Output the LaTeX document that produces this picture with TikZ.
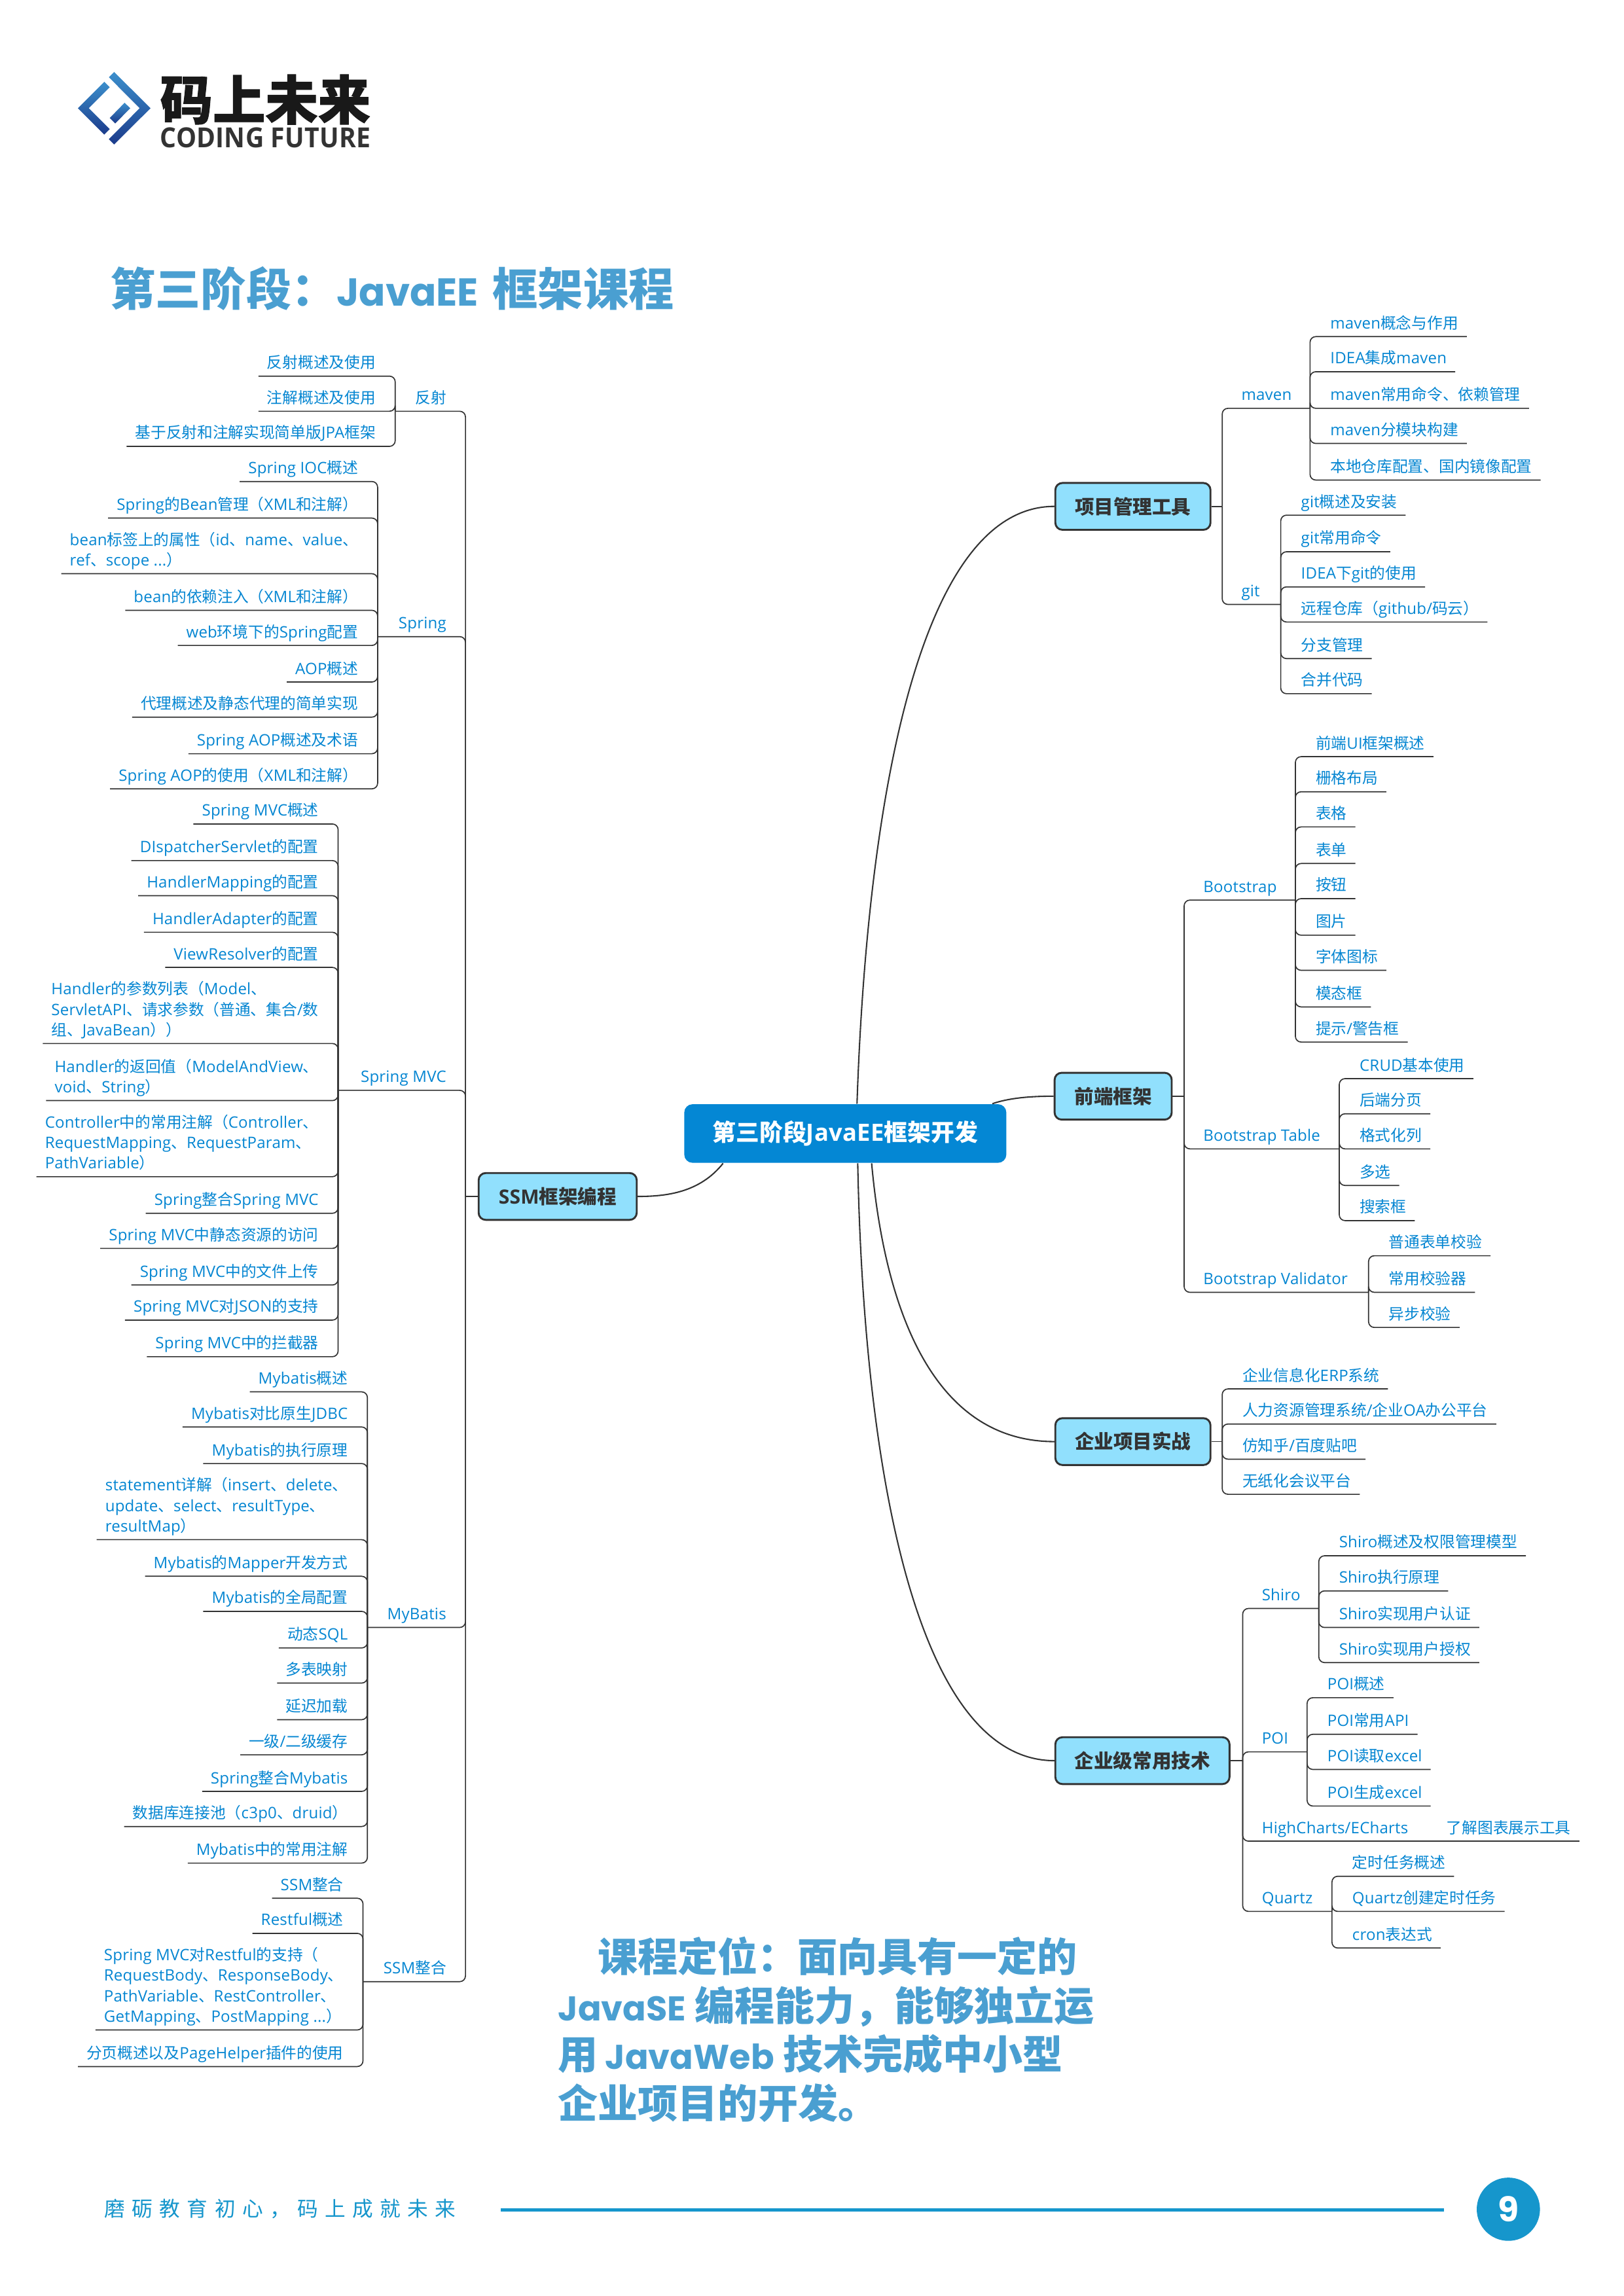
\documentclass[tikz,border=0pt]{standalone}
\usepackage{fontspec}
\setmainfont{Open Sans}[Scale=1.015,LetterSpace=0.8]
\newfontfamily\latfam{Open Sans}[Scale=1.015,LetterSpace=0.8]
\newfontfamily\cjkfam{Noto Sans CJK SC}
\newfontfamily\ttllat{Poppins}[Scale=0.86]
\newfontfamily\numfam{Poppins}
\newfontfamily\footfam{Noto Sans CJK SC}[LetterSpace=33]
\newfontfamily\logofam{Noto Sans CJK SC}[BoldFeatures={FakeBold=1.2}]
\def\curcjk{\cjkfam}
\def\curlat{\latfam}
\XeTeXinterchartokenstate=1
\count255="3000
\loop \XeTeXcharclass\count255=7 \ifnum\count255<"9FFF \advance\count255 by 1 \repeat
\count255="FF00
\loop \XeTeXcharclass\count255=7 \ifnum\count255<"FFEF \advance\count255 by 1 \repeat
\XeTeXinterchartoks 0 7 = {\curcjk}
\XeTeXinterchartoks 7 0 = {\curlat}
\XeTeXinterchartoks 4095 7 = {\curcjk}
\XeTeXinterchartoks 7 4095 = {\curlat}
\newdimen\uu \uu=0.53665pt
\definecolor{lbl}{HTML}{0586D2}
\definecolor{ink}{HTML}{333333}
\definecolor{boxfill}{HTML}{91E0FD}
\definecolor{central}{HTML}{0487D4}
\definecolor{ttl}{HTML}{4A9FD1}
\definecolor{foot}{HTML}{1696CC}
\definecolor{logolight}{HTML}{3C8FCC}
\definecolor{logodark}{HTML}{1B3B8B}
\tikzset{
 leaf/.style={text=lbl,inner xsep=5.5\uu,inner ysep=2.5\uu,text height=9\uu,text depth=2.5\uu,align=left,
   font=\fontsize{5.69pt}{7.51pt}\selectfont},
 conn/.style={draw=ink,line width=0.4pt,rounded corners=2.1pt},
 curve/.style={draw=ink,line width=0.5pt},
 topic/.style={draw=ink,line width=0.7pt,fill=boxfill,rounded corners=2.6pt,text=ink,inner sep=0pt,
   minimum height=32\uu,font=\fontsize{7.1pt}{8pt}\selectfont\bfseries},
 rootbox/.style={fill=central,rounded corners=3pt,text=white,inner sep=0pt,
   minimum width=220\uu,minimum height=40\uu,font=\fontsize{8.6pt}{10pt}\selectfont\bfseries},
 bigtext/.style={text=ttl,inner sep=0pt,align=left,font=\bfseries}
}
% right side
\newcommand\Rl[5][8]{%
 \path (#3.south east) ++(#1,0) coordinate (tmpx);
 \coordinate (tmpy) at (0,#4);
 \node[leaf,anchor=south west] (#2) at (tmpx |- tmpy) {#5};
 \draw[conn] (#3.south east) |- (#2.south east);}
\newcommand\Rp[6]{% name,trunk name,trunk x,y,J x,text
 \node[leaf,anchor=south east] (#1) at (#5,#4) {\makebox[\dimexpr#5\uu-#3\uu-19\uu\relax][l]{#6}};
 \draw[conn] (#2) |- (#1.south east);}
% left side
\newcommand\Ll[4]{%
 \path (#2.south west) ++(-7.5,0) coordinate (tmpx);
 \coordinate (tmpy) at (0,#3);
 \node[leaf,anchor=south east] (#1) at (tmpx |- tmpy) {#4};
 \draw[conn] (#2.south west) |- (#1.south west);}
\newcommand\Lp[4]{% name,y,J x,text  (trunk tj at x=318)
 \node[leaf,anchor=south west] (#1) at (#3,#2) {\makebox[\dimexpr318\uu-#3\uu-19\uu\relax][r]{#4}};
 \draw[conn] (tj) |- (#1.south west);}
\begin{document}
\begin{tikzpicture}[x=\uu,y=-\uu]
\useasboundingbox (0,0) rectangle (1109.1,1568.8);
\fill[white] (0,0) rectangle (1109.1,1568.8);
% logo
\begin{scope}[shift={(44.72,40.25)},x=0.08pt,y=-0.08pt]
 \shade[top color=logolight,bottom color=logodark] (178,105)--(203,130)--(107,226)--(203,322)--(178,347)--(57,226)--cycle;
 \shade[top color=logolight,bottom color=logodark] (223,60)--(390,226)--(223,392)--(199,368)--(340,226)--(199,84)--cycle;
 \shade[top color=logolight,bottom color=logodark] (271,201)--(297,226)--(228,296)--(203,271)--cycle;
\end{scope}
\node[anchor=west,inner sep=0pt,text=black!90,font=\fontsize{19.3pt}{20pt}\selectfont\bfseries] (logocn) at (109,68) {\def\curcjk{\logofam}码上未来};
\node[anchor=west,inner sep=0pt,text=black!80,font=\fontsize{10pt}{11pt}\selectfont\bfseries] (logoen) at (109,94) {\scalebox{.925}[1]{CODING FUTURE}};
% title
\node[bigtext,anchor=west,font=\fontsize{16.6pt}{20pt}\selectfont\bfseries] (title) at (75,197)
 {\def\curlat{\ttllat}第三阶段：JavaEE\hspace{4\uu} 框架课程};
% central
\node[rootbox] (root) at (577.5,774.5) {第三阶段JavaEE框架开发};
% main topics
\node[topic,minimum width=106\uu] (pm) at (774,346) {项目管理工具};
\node[topic,minimum width=80\uu] (fe) at (760.5,749) {前端框架};
\node[topic,minimum width=106\uu] (ent) at (774,985) {企业项目实战};
\node[topic,minimum width=119\uu] (tech) at (780.5,1203) {企业级常用技术};
\node[topic,minimum width=108\uu] (ssm) at (381,817.5) {SSM框架编程};
\draw[curve] ([xshift=8\uu]root.north) .. controls (592,560) and (625,346) .. (pm.west);
\draw[curve] ([xshift=100.5\uu]root.north) .. controls (690,750) and (705,749) .. (fe.west);
\draw[curve] ([xshift=18\uu]root.south) .. controls (605,900) and (640,985) .. (ent.west);
\draw[curve] ([xshift=8.5\uu]root.south) .. controls (590,1000) and (625,1203) .. (tech.west);
\draw[curve] ([xshift=-83.5\uu]root.south) .. controls (478,815) and (455,817.5) .. (ssm.east);
% --- project tools
\coordinate (tp) at (835,346);
\draw[conn] (pm.east) -- (tp);
\Rp{maven}{tp}{835}{279}{895}{maven}
\Rl{m1}{maven}{230}{maven概念与作用}
\Rl{m2}{maven}{254}{IDEA集成maven}
\Rl{m3}{maven}{279}{maven常用命令、依赖管理}
\Rl{m4}{maven}{303}{maven分模块构建}
\Rl{m5}{maven}{328}{本地仓库配置、国内镜像配置}
\Rp{git}{tp}{835}{413}{875}{git}
\Rl{g1}{git}{352}{git概述及安装}
\Rl{g2}{git}{377}{git常用命令}
\Rl{g3}{git}{401}{IDEA下git的使用}
\Rl{g4}{git}{425}{远程仓库（github/码云）}
\Rl{g5}{git}{450}{分支管理}
\Rl{g6}{git}{474}{合并代码}
% --- front end
\coordinate (tf) at (809,749);
\draw[conn] (fe.east) -- (tf);
\Rp{bs}{tf}{809}{615}{885}{Bootstrap}
\Rl{b1}{bs}{517}{前端UI框架概述}
\Rl{b2}{bs}{541}{栅格布局}
\Rl{b3}{bs}{565}{表格}
\Rl{b4}{bs}{590}{表单}
\Rl{b5}{bs}{614}{按钮}
\Rl{b6}{bs}{639}{图片}
\Rl{b7}{bs}{663}{字体图标}
\Rl{b8}{bs}{688}{模态框}
\Rl{b9}{bs}{712}{提示/警告框}
\Rp{bt}{tf}{809}{785}{915}{Bootstrap Table}
\Rl{t1}{bt}{737}{CRUD基本使用}
\Rl{t2}{bt}{761}{后端分页}
\Rl{t3}{bt}{785}{格式化列}
\Rl{t4}{bt}{810}{多选}
\Rl{t5}{bt}{834}{搜索框}
\Rp{bv}{tf}{809}{883}{935}{Bootstrap Validator}
\Rl{v1}{bv}{858}{普通表单校验}
\Rl{v2}{bv}{883}{常用校验器}
\Rl{v3}{bv}{907}{异步校验}
% --- enterprise projects
\coordinate (te) at (835,985);
\draw[conn] (ent.east) -- (te);
\node[leaf,anchor=south west] (e1) at (843,949) {企业信息化ERP系统};
\node[leaf,anchor=south west] (e2) at (843,973) {人力资源管理系统/企业OA办公平台};
\node[leaf,anchor=south west] (e3) at (843,997) {仿知乎/百度贴吧};
\node[leaf,anchor=south west] (e4) at (843,1021) {无纸化会议平台};
\draw[conn] (te) |- (e1.south east);
\draw[conn] (te) |- (e2.south east);
\draw[conn] (te) |- (e3.south east);
\draw[conn] (te) |- (e4.south east);
% --- enterprise tech
\coordinate (tt) at (849,1203);
\draw[conn] (tech.east) -- (tt);
\Rp{shiro}{tt}{849}{1099}{901}{Shiro}
\Rl{s1}{shiro}{1063}{Shiro概述及权限管理模型}
\Rl{s2}{shiro}{1087}{Shiro执行原理}
\Rl{s3}{shiro}{1112}{Shiro实现用户认证}
\Rl{s4}{shiro}{1136}{Shiro实现用户授权}
\Rp{poi}{tt}{849}{1197}{893}{POI}
\Rl{p1}{poi}{1160}{POI概述}
\Rl{p2}{poi}{1185}{POI常用API}
\Rl{p3}{poi}{1209}{POI读取excel}
\Rl{p4}{poi}{1234}{POI生成excel}
\Rp{hc}{tt}{849}{1258}{967}{HighCharts/ECharts}
\node[leaf,anchor=south east] (h1) at (1079,1258) {了解图表展示工具};
\draw[conn] (hc.south east) -- (h1.south east);
\Rp{qz}{tt}{849}{1306}{910}{Quartz}
\Rl{q1}{qz}{1282}{定时任务概述}
\Rl{q2}{qz}{1306}{Quartz创建定时任务}
\Rl{q3}{qz}{1331}{cron表达式}
% --- SSM
\coordinate (tj) at (318,817.5);
\draw[conn] (ssm.west) -- (tj);
\Lp{fs}{281}{270}{反射}
\Ll{f1}{fs}{257}{反射概述及使用}
\Ll{f2}{fs}{281}{注解概述及使用}
\Ll{f3}{fs}{305}{基于反射和注解实现简单版JPA框架}
\Lp{sp}{435}{258}{Spring}
\Ll{a1}{sp}{329}{Spring IOC概述}
\Ll{a2}{sp}{354}{Spring的Bean管理（XML和注解）}
\Ll{a3}{sp}{392}{bean标签上的属性（id、name、value、\\ref、scope ...）}
\Ll{a4}{sp}{417}{bean的依赖注入（XML和注解）}
\Ll{a5}{sp}{441}{web环境下的Spring配置}
\Ll{a6}{sp}{466}{AOP概述}
\Ll{a7}{sp}{490}{代理概述及静态代理的简单实现}
\Ll{a8}{sp}{515}{Spring AOP概述及术语}
\Ll{a9}{sp}{539}{Spring AOP的使用（XML和注解）}
\Lp{mvc}{745}{231}{Spring MVC}
\Ll{c1}{mvc}{563}{Spring MVC概述}
\Ll{c2}{mvc}{588}{DIspatcherServlet的配置}
\Ll{c3}{mvc}{612}{HandlerMapping的配置}
\Ll{c4}{mvc}{637}{HandlerAdapter的配置}
\Ll{c5}{mvc}{661}{ViewResolver的配置}
\Ll{c6}{mvc}{713}{Handler的参数列表（Model、\\ServletAPI、请求参数（普通、集合/数\\组、JavaBean））}
\Ll{c7}{mvc}{752}{Handler的返回值（ModelAndView、\\void、String）}
\Ll{c8}{mvc}{804}{Controller中的常用注解（Controller、\\RequestMapping、RequestParam、\\PathVariable）}
\Ll{c9}{mvc}{829}{Spring整合Spring MVC}
\Ll{c10}{mvc}{853}{Spring MVC中静态资源的访问}
\Ll{c11}{mvc}{878}{Spring MVC中的文件上传}
\Ll{c12}{mvc}{902}{Spring MVC对JSON的支持}
\Ll{c13}{mvc}{927}{Spring MVC中的拦截器}
\Lp{mb}{1112}{251}{MyBatis}
\Ll{d1}{mb}{951}{Mybatis概述}
\Ll{d2}{mb}{975}{Mybatis对比原生JDBC}
\Ll{d3}{mb}{1000}{Mybatis的执行原理}
\Ll{d4}{mb}{1052}{statement详解（insert、delete、\\update、select、resultType、\\resultMap）}
\Ll{d5}{mb}{1077}{Mybatis的Mapper开发方式}
\Ll{d6}{mb}{1101}{Mybatis的全局配置}
\Ll{d7}{mb}{1126}{动态SQL}
\Ll{d8}{mb}{1150}{多表映射}
\Ll{d9}{mb}{1175}{延迟加载}
\Ll{d10}{mb}{1199}{一级/二级缓存}
\Ll{d11}{mb}{1224}{Spring整合Mybatis}
\Ll{d12}{mb}{1248}{数据库连接池（c3p0、druid）}
\Ll{d13}{mb}{1273}{Mybatis中的常用注解}
\Lp{si}{1354}{248}{SSM整合}
\Ll{i1}{si}{1297}{SSM整合}
\Ll{i2}{si}{1321}{Restful概述}
\Ll{i3}{si}{1387}{Spring MVC对Restful的支持（\\RequestBody、ResponseBody、\\PathVariable、RestController、\\GetMapping、PostMapping ...）}
\Ll{i4}{si}{1412}{分页概述以及PageHelper插件的使用}
% paragraph
\node[bigtext,anchor=north west,font=\fontsize{14.65pt}{17.9pt}\selectfont\bfseries] (para) at (381,1323)
 {\def\curlat{\ttllat}\hspace*{27\uu}课程定位：面向具有一定的\\\def\curlat{\ttllat}\ttllat JavaSE\hspace{1\uu} 编程能力，能够独立运\\\def\curlat{\ttllat}用 JavaWeb\hspace{1\uu} 技术完成中小型\\\def\curlat{\ttllat}企业项目的开发。};
% footer
\node[anchor=west,inner sep=0pt,text=foot,font=\fontsize{7.6pt}{9pt}\selectfont] (slogan) at (71,1509)
 {\def\curcjk{\footfam}磨砺教育初心，码上成就未来};
\coordinate (ruleA) at (342,1510);
\coordinate (ruleB) at (986.6,1510);
\draw[foot,line width=1pt] (ruleA) -- (ruleB);
\node[circle,fill=foot,inner sep=0pt,minimum size=43.2\uu,text=white,font=\fontsize{12.5pt}{13pt}\selectfont\bfseries] (pagenum) at (1030.5,1509.5) {\numfam 9};
\end{tikzpicture}
\end{document}
